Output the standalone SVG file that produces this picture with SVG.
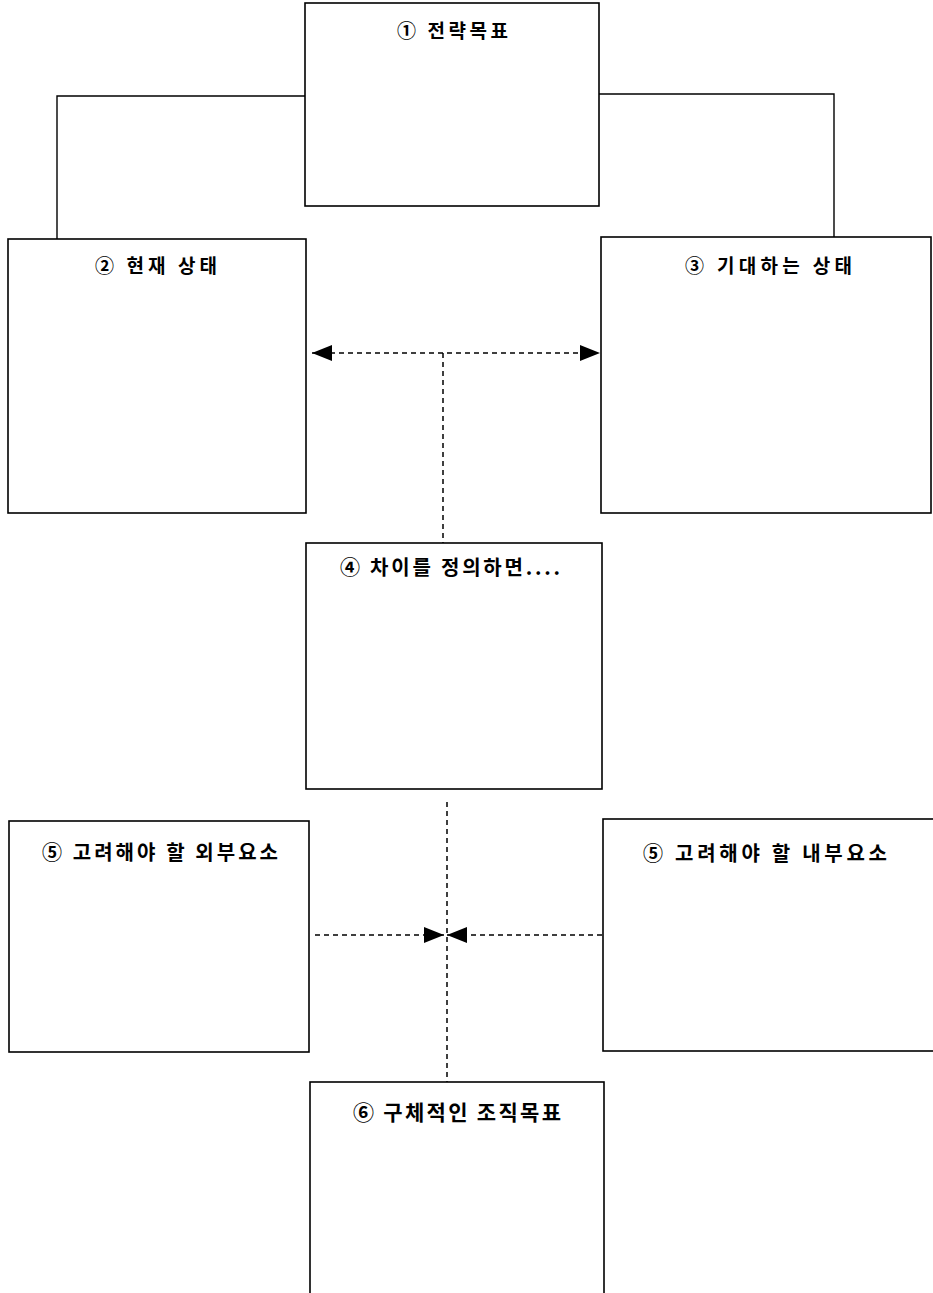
<svg xmlns="http://www.w3.org/2000/svg" width="933" height="1293" viewBox="0 0 933 1293">
<defs>
<style>
.box{fill:#fff;stroke:#000;stroke-width:1.6}
.conn{fill:none;stroke:#000;stroke-width:1.4}
.dash{fill:none;stroke:#000;stroke-width:1.5;stroke-dasharray:5 4}
.lbl{font-family:"Noto Sans CJK KR","Noto Sans",sans-serif;font-weight:700;fill:#000}
</style>
<marker id="ah" viewBox="0 0 20 16" refX="20" refY="8" markerWidth="20" markerHeight="16" markerUnits="userSpaceOnUse" orient="auto-start-reverse">
<path d="M0,0 L20,8 L0,16 Z" fill="#000"/>
</marker>
</defs>
<rect width="933" height="1293" fill="#fff"/>
<g id="connectors">
<path class="conn" d="M305,96 H57 V239"/>
<path class="conn" d="M599,94 H834 V237"/>
<line class="dash" x1="312" y1="353" x2="600" y2="353" marker-start="url(#ah)" marker-end="url(#ah)"/>
<line class="dash" x1="443" y1="353" x2="443" y2="543"/>
<line class="dash" x1="447" y1="802" x2="447" y2="1082"/>
<line class="dash" x1="315" y1="935" x2="444" y2="935" marker-end="url(#ah)"/>
<line class="dash" x1="602" y1="935" x2="447" y2="935" marker-end="url(#ah)"/>
</g>
<g id="node1">
<rect class="box" x="305" y="3" width="294" height="203"/>
<text class="lbl" x="397" y="38" font-size="19" textLength="111" lengthAdjust="spacing">① 전략목표</text>
</g>
<g id="node2">
<rect class="box" x="8" y="239" width="298" height="274"/>
<text class="lbl" x="95" y="273" font-size="19" textLength="122" lengthAdjust="spacing">② 현재 상태</text>
</g>
<g id="node3">
<rect class="box" x="601" y="237" width="330" height="276"/>
<text class="lbl" x="685" y="273" font-size="19" textLength="167" lengthAdjust="spacing">③ 기대하는 상태</text>
</g>
<g id="node4">
<rect class="box" x="306" y="543" width="296" height="246"/>
<text class="lbl" x="340" y="575" font-size="20" textLength="220" lengthAdjust="spacing">④ 차이를 정의하면....</text>
</g>
<g id="node5a">
<rect class="box" x="9" y="821" width="300" height="231"/>
<text class="lbl" x="42" y="860" font-size="20" textLength="236" lengthAdjust="spacing">⑤ 고려해야 할 외부요소</text>
</g>
<g id="node5b">
<rect class="box" x="603" y="819" width="332" height="232"/>
<text class="lbl" x="643" y="861" font-size="20" textLength="244" lengthAdjust="spacing">⑤ 고려해야 할 내부요소</text>
</g>
<g id="node6">
<rect class="box" x="310" y="1082" width="294" height="230"/>
<text class="lbl" x="353" y="1120" font-size="21" textLength="208" lengthAdjust="spacing">⑥ 구체적인 조직목표</text>
</g>
</svg>
